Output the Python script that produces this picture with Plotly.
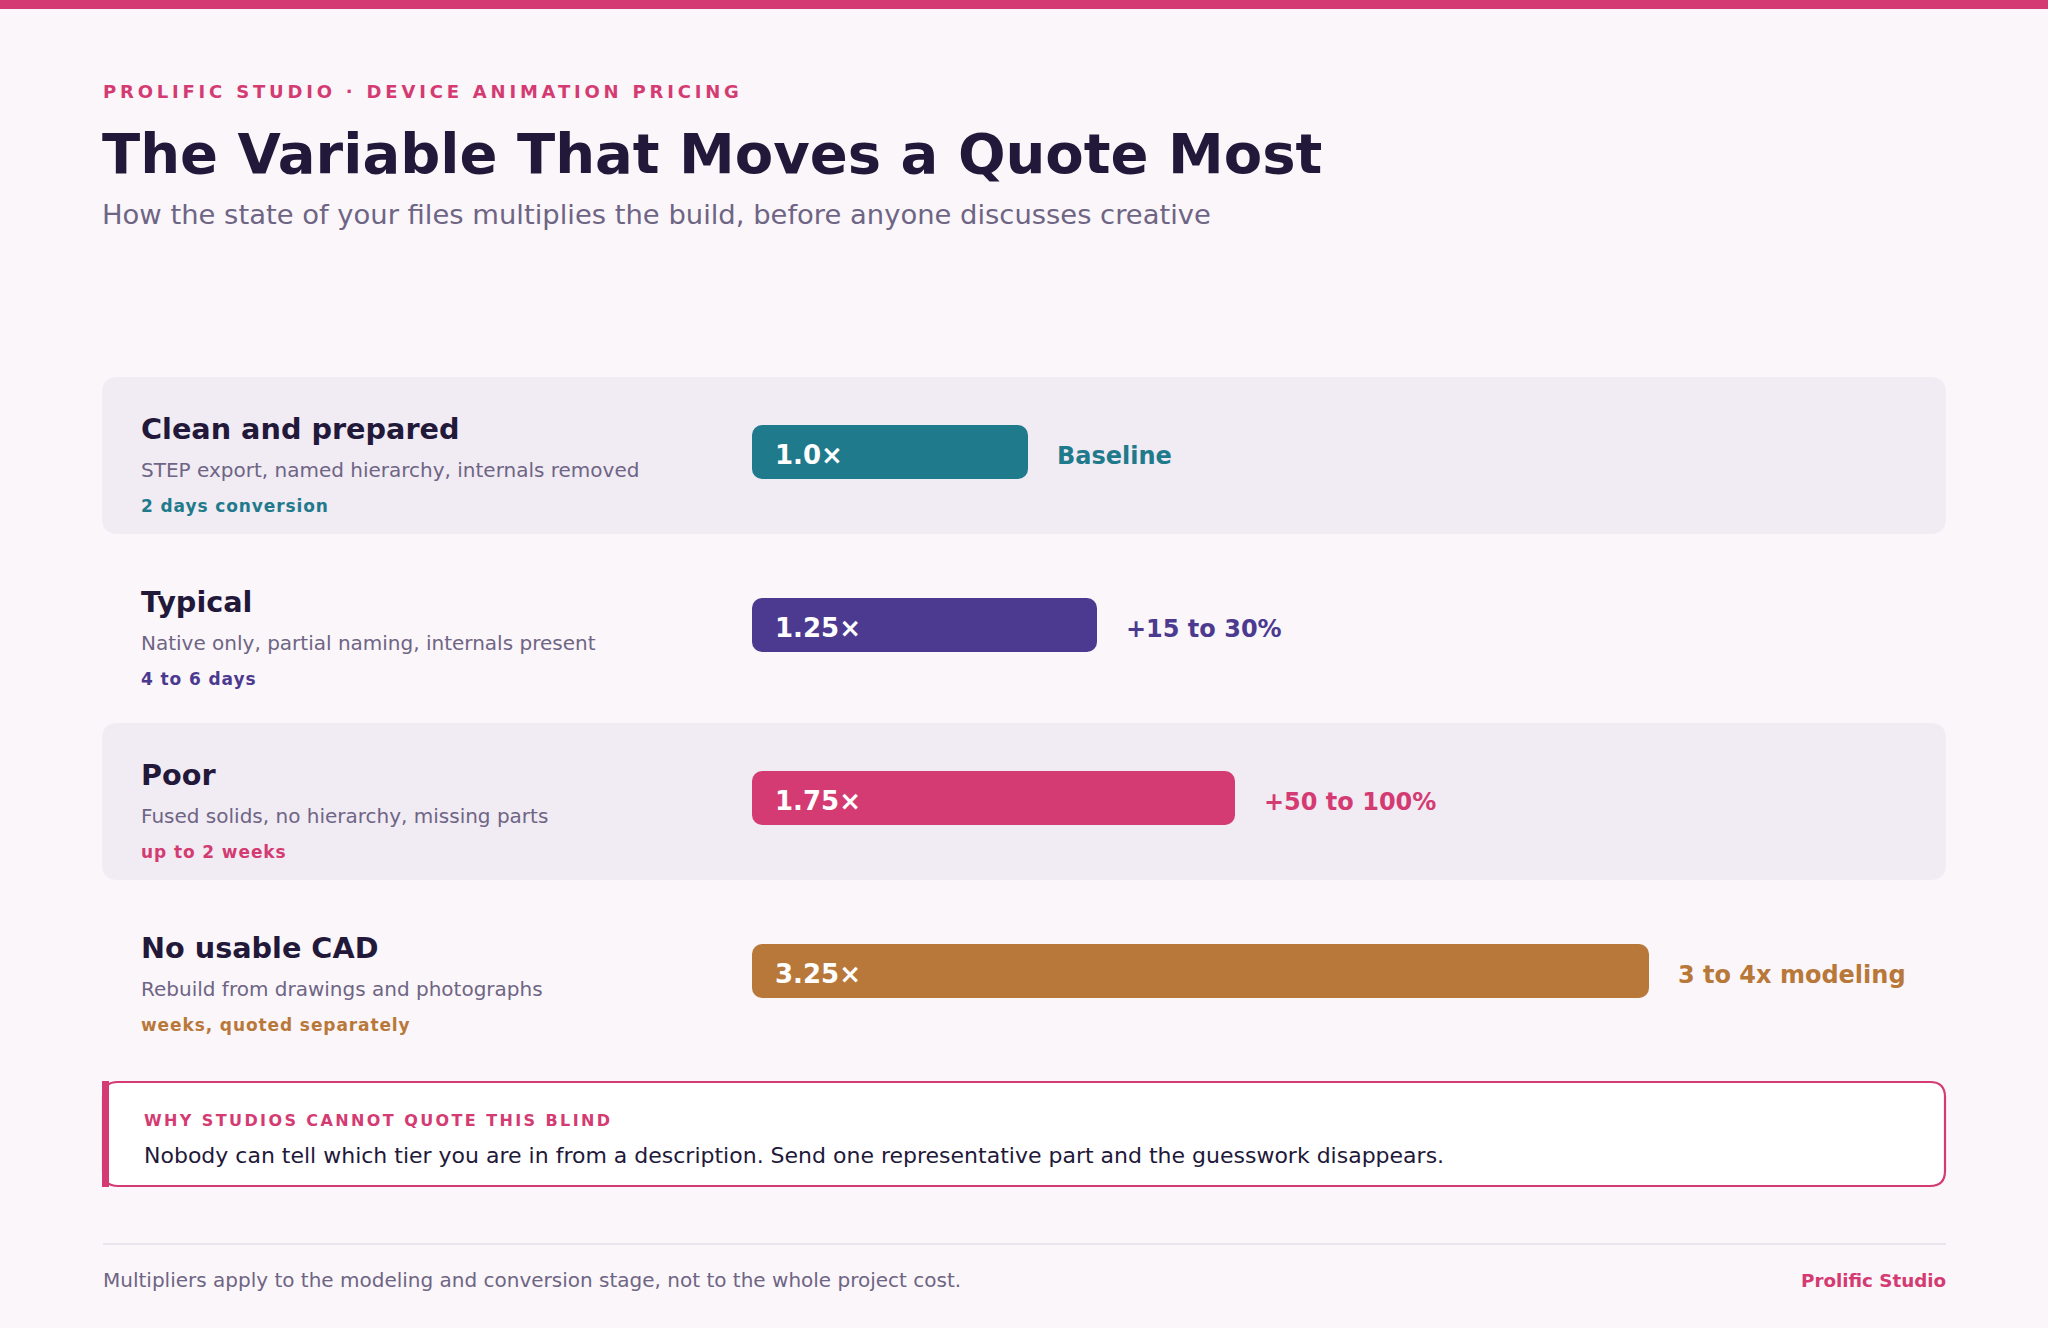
import plotly.graph_objects as go

# Data
tiers = ["Clean and prepared", "Typical", "Poor", "No usable CAD"]
descriptions = ["STEP export, named hierarchy, internals removed",
                "Native only, partial naming, internals present",
                "Fused solids, no hierarchy, missing parts",
                "Rebuild from drawings and photographs"]
durations = ["2 days conversion", "4 to 6 days", "up to 2 weeks", "weeks, quoted separately"]
multipliers = [1.0, 1.25, 1.75, 3.25]
bar_labels = ["1.0×", "1.25×", "1.75×", "3.25×"]
impact = ["Baseline", "+15 to 30%", "+50 to 100%", "3 to 4x modeling"]
colors = ["#1f7a8c", "#4b3a8f", "#d43b72", "#b8783a"]

W, H = 2048, 1328
PINK = "#d43b72"
INK = "#22183a"
MUTED = "#6e6585"
BG = "#fbf6f9"
CARD = "#f1ebf3"
FONT = "DejaVu Sans"

PX_PER_UNIT = 276.0   # bar scale
ROW_PX = 173.0        # row pitch
X0_PX = 752.0         # where 0x starts
ROW0_PX = 452.0       # centre of first bar


def X(p):
    return p / W


def Y(p):
    return 1 - p / H


def rounded(x0, y0, x1, y1, rx, ry):
    # rounded rect path in axis units
    return (f"M {x0+rx},{y0} L {x1-rx},{y0} Q {x1},{y0} {x1},{y0+ry} "
            f"L {x1},{y1-ry} Q {x1},{y1} {x1-rx},{y1} L {x0+rx},{y1} "
            f"Q {x0},{y1} {x0},{y1-ry} L {x0},{y0+ry} Q {x0},{y0} {x0+rx},{y0} Z")


rows = list(range(len(tiers)))

fig = go.Figure()
# explicit base -> both ends of the bar get rounded
fig.add_trace(go.Bar(
    x=multipliers, base=[0] * len(multipliers), y=rows, orientation="h",
    marker=dict(color=colors, line=dict(width=0)),
    width=54 / ROW_PX, hoverinfo="skip", showlegend=False,
))

shapes = []
annos = []

# top accent bar
shapes.append(dict(type="rect", xref="paper", yref="paper", x0=0, x1=1, y0=Y(9), y1=1,
                   fillcolor=PINK, line=dict(width=0), layer="above"))

# alternating cards
for i in rows:
    if i % 2 == 0:
        path = rounded(X(102), i - 75 / ROW_PX, X(1946), i + 82 / ROW_PX, X(16), 16 / ROW_PX)
        shapes.append(dict(type="path", xref="paper", yref="y", path=path,
                           fillcolor=CARD, line=dict(width=0), layer="below"))

# texts per row
for i in rows:
    annos.append(dict(x=X(139), y=i, xref="paper", yref="y", yshift=23.5, text="<b>" + tiers[i] + "</b>",
                      font=dict(family=FONT, size=28.7, color=INK), xanchor="left", yanchor="middle", showarrow=False))
    annos.append(dict(x=X(139), y=i, xref="paper", yref="y", yshift=-18, text=descriptions[i],
                      font=dict(family=FONT, size=20, color=MUTED), xanchor="left", yanchor="middle", showarrow=False))
    annos.append(dict(x=X(139), y=i, xref="paper", yref="y", yshift=-53.5,
                      text='<span style="letter-spacing:0.9px"><b>' + durations[i] + "</b></span>",
                      font=dict(family=FONT, size=17, color=colors[i]), xanchor="left", yanchor="middle", showarrow=False))
    # inside bar label
    annos.append(dict(x=0, y=i, xref="x", yref="y", xshift=21, yshift=-2.5, text="<b>" + bar_labels[i] + "</b>",
                      font=dict(family=FONT, size=26, color="white"), xanchor="left", yanchor="middle", showarrow=False))
    # impact label after bar
    annos.append(dict(x=multipliers[i], y=i, xref="x", yref="y", xshift=26.5, yshift=-3.5, text="<b>" + impact[i] + "</b>",
                      font=dict(family=FONT, size=24, color=colors[i]), xanchor="left", yanchor="middle", showarrow=False))

# header
annos.append(dict(x=X(101), y=Y(92), xref="paper", yref="paper",
                  text='<span style="letter-spacing:3.8px"><b>PROLIFIC STUDIO · DEVICE ANIMATION PRICING</b></span>',
                  font=dict(family=FONT, size=18, color=PINK), xanchor="left", yanchor="middle", showarrow=False))
annos.append(dict(x=X(100), y=Y(153), xref="paper", yref="paper",
                  text="<b>The Variable That Moves a Quote Most</b>",
                  font=dict(family=FONT, size=56, color=INK), xanchor="left", yanchor="middle", showarrow=False))
annos.append(dict(x=X(100), y=Y(214), xref="paper", yref="paper",
                  text="How the state of your files multiplies the build, before anyone discusses creative",
                  font=dict(family=FONT, size=27.4, color=MUTED), xanchor="left", yanchor="middle", showarrow=False))

# callout box
shapes.append(dict(type="path", xref="paper", yref="paper",
                   path=rounded(X(103), Y(1082), X(1945), Y(1186), X(15), -15 / H),
                   fillcolor="white", line=dict(color=PINK, width=2.2), layer="above"))
shapes.append(dict(type="rect", xref="paper", yref="paper", x0=X(102), x1=X(109), y0=Y(1187), y1=Y(1081),
                   fillcolor=PINK, line=dict(width=0), layer="above"))
annos.append(dict(x=X(142), y=Y(1120.5), xref="paper", yref="paper",
                  text='<span style="letter-spacing:2.4px"><b>WHY STUDIOS CANNOT QUOTE THIS BLIND</b></span>',
                  font=dict(family=FONT, size=16, color=PINK), xanchor="left", yanchor="middle", showarrow=False))
annos.append(dict(x=X(142), y=Y(1155), xref="paper", yref="paper",
                  text="Nobody can tell which tier you are in from a description. Send one representative part and the guesswork disappears.",
                  font=dict(family=FONT, size=22, color=INK), xanchor="left", yanchor="middle", showarrow=False))

# footer
shapes.append(dict(type="line", xref="paper", yref="paper", x0=X(103), x1=X(1946), y0=Y(1244), y1=Y(1244),
                   line=dict(color="#e6dee7", width=1.5), layer="above"))
annos.append(dict(x=X(101), y=Y(1280), xref="paper", yref="paper",
                  text="Multipliers apply to the modeling and conversion stage, not to the whole project cost.",
                  font=dict(family=FONT, size=20, color=MUTED), xanchor="left", yanchor="middle", showarrow=False))
annos.append(dict(x=X(1948), y=Y(1280), xref="paper", yref="paper", text="<b>Prolific Studio</b>",
                  font=dict(family=FONT, size=18.3, color=PINK), xanchor="right", yanchor="middle", showarrow=False))

# axes: x=0 at X0_PX, PX_PER_UNIT per unit; rows ROW_PX apart, top to bottom
fig.update_xaxes(range=[-X0_PX / PX_PER_UNIT, (W - X0_PX) / PX_PER_UNIT], visible=False, fixedrange=True)
top = -ROW0_PX / ROW_PX
fig.update_yaxes(range=[top + H / ROW_PX, top], visible=False, fixedrange=True)

fig.update_layout(
    width=W, height=H,
    margin=dict(l=0, r=0, t=0, b=0),
    paper_bgcolor=BG, plot_bgcolor="rgba(0,0,0,0)",
    barcornerradius=10,
    shapes=shapes, annotations=annos,
    font=dict(family=FONT),
    showlegend=False,
)

# page without the default body margin
fig.write_html("out.html", config=dict(displayModeBar=False),
               post_script="document.body.style.margin='0';document.body.style.overflow='hidden';")
